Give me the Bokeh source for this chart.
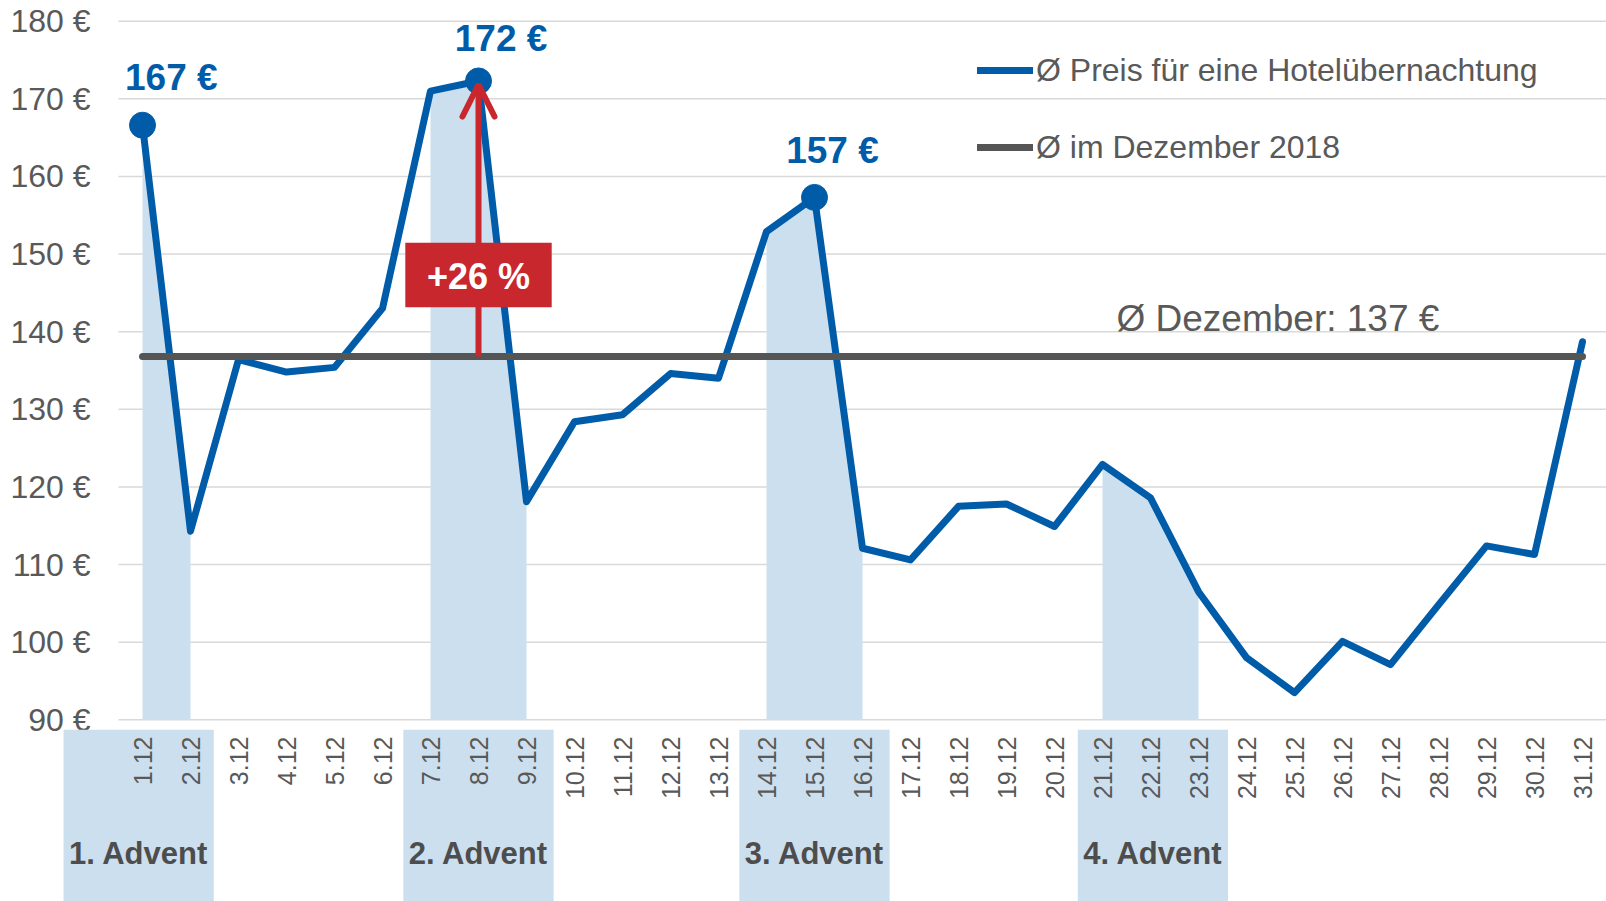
import math
from bokeh.plotting import figure
from bokeh.models import Range1d, Legend, LegendItem, Arrow, OpenHead, BoxAnnotation, Label
from bokeh.embed import file_html
from bokeh.resources import INLINE
from bokeh.core.properties import value

# ---------------- data ----------------
days = list(range(1, 32))
date_labels = ["1.12", "2.12", "3.12", "4.12", "5.12", "6.12", "7.12", "8.12", "9.12",
               "10.12", "11.12", "12.12", "13.12", "14.12", "15.12", "16.12", "17.12",
               "18.12", "19.12", "20.12", "21.12", "22.12", "23.12", "24.12", "25.12",
               "26.12", "27.12", "28.12", "29.12", "30.12", "31.12"]
prices = [166.6, 114.3, 136.4, 134.8, 135.4, 143.0, 171.0, 172.3, 118.1, 128.4,
          129.3, 134.6, 134.0, 152.9, 157.3, 112.1, 110.6, 117.5, 117.8, 114.9,
          122.9, 118.6, 106.5, 98.0, 93.5, 100.1, 97.1, 104.8, 112.4, 111.3, 138.7]
december_avg = 136.8
advent_weekends = [[1, 2], [7, 8, 9], [14, 15, 16], [21, 22, 23]]
advent_names = ["1. Advent", "2. Advent", "3. Advent", "4. Advent"]
peak_days = [1, 8, 15]
peak_labels = ["167 €", "172 €", "157 €"]
y_ticks = [90, 100, 110, 120, 130, 140, 150, 160, 170, 180]
y_tick_labels = ["90 €", "100 €", "110 €", "120 €", "130 €", "140 €", "150 €", "160 €", "170 €", "180 €"]
legend_labels = ["Ø Preis für eine Hotelübernachtung", "Ø im Dezember 2018"]
avg_text = "Ø Dezember: 137 €"
change_text = "+26 %"

# ---------------- style / layout ----------------
FONT = "Liberation Sans"
BLUE = "#005CA9"
GREY_LINE = "#555555"
SHADE = "#CCDFEE"
RED = "#C8282D"
TXT = "#595959"
W, H = 1606, 901

# pixel geometry of the plotting area (page px)
X_FIRST_BAND = 118.0      # left edge of the first day slot
SLOT = 48.0               # px per day
Y_TOP_TICK = 20.7         # px of the 180 gridline
PX_PER_UNIT = 7.762       # px per euro


def px_x(px):
    return (px - X_FIRST_BAND) / SLOT + 0.5


def px_y(py):
    return y_ticks[-1] - (py - Y_TOP_TICK) / PX_PER_UNIT


band_centers = [0.92, 8.0, 15.0, 22.05]
band_half = 1.565
band_top = px_y(729.3)
date_label_y = px_y(736)
advent_label_y = px_y(853)
label_x = px_x(90)
peak_dx = [0.6, 0.47, 0.375]
peak_dy = [6.15, 5.45, 6.0]

p = figure(width=W, height=H, output_backend="svg", toolbar_location=None, tools="",
           x_range=Range1d(px_x(0), px_x(W)), y_range=Range1d(px_y(H), px_y(0)),
           x_axis_location=None, y_axis_location=None,
           min_border_left=0, min_border_right=0, min_border_top=0, min_border_bottom=0)
p.outline_line_color = None
p.background_fill_color = "white"
p.border_fill_color = "white"
p.grid.visible = False

# horizontal gridlines
p.segment(x0=[0.5] * len(y_ticks), x1=[31.5] * len(y_ticks), y0=y_ticks, y1=y_ticks,
          line_color="#D9D9D9", line_width=1.5)
# y tick labels
p.text(x=[label_x] * len(y_ticks), y=y_ticks, text=y_tick_labels, text_align="right",
       text_baseline="middle", text_font=value(FONT), text_font_size="32px", text_color=TXT)

# bands below axis
p.quad(left=[c - band_half for c in band_centers], right=[c + band_half for c in band_centers],
       bottom=px_y(H) - 5, top=band_top, fill_color=SHADE, line_color=None)

# advent weekend areas under the line
for wk in advent_weekends:
    p.varea(x=wk, y1=[y_ticks[0]] * len(wk), y2=[prices[d - 1] for d in wk], fill_color=SHADE)

blue_line = p.line(days, prices, line_color=BLUE, line_width=7, line_join="round", line_cap="round")
avg_line = p.line([days[0], days[-1]], [december_avg, december_avg], line_color=GREY_LINE,
                  line_width=7, line_cap="round")
p.scatter(peak_days, [prices[d - 1] for d in peak_days], size=26,
          fill_color=BLUE, line_color=BLUE)

# peak labels
p.text(x=[d + dx for d, dx in zip(peak_days, peak_dx)],
       y=[prices[d - 1] + dy for d, dy in zip(peak_days, peak_dy)],
       text=peak_labels, text_align="center", text_baseline="middle",
       text_font=value(FONT), text_font_style="bold", text_font_size="37px", text_color=BLUE)

# average text
p.text(x=[px_x(1116)], y=[px_y(317.5)], text=[avg_text], text_align="left", text_baseline="middle",
       text_font=value(FONT), text_font_size="37px", text_color=TXT)

# date labels
p.text(x=days, y=[date_label_y] * len(days), text=date_labels, angle=math.pi / 2,
       text_align="right", text_baseline="middle", text_font=value(FONT),
       text_font_size="25px", text_color=TXT)

# advent labels
p.text(x=band_centers, y=[advent_label_y] * 4, text=advent_names, text_align="center",
       text_baseline="middle", text_font=value(FONT), text_font_style="bold",
       text_font_size="31px", text_color="#4D4D4D")

# arrow + change box (annotations, box drawn over the arrow)
p.add_layout(Arrow(end=OpenHead(size=32, line_color=RED, line_width=6, line_cap="round"),
                   x_start=8, y_start=december_avg, x_end=8, y_end=px_y(84),
                   line_color=RED, line_width=6))
p.add_layout(BoxAnnotation(left=8 - 1.525, right=8 + 1.525, bottom=px_y(306.7), top=px_y(242.3),
                           fill_color=RED, fill_alpha=1.0, line_color=None))
p.add_layout(Label(x=8, y=px_y(275.8), text=change_text, text_align="center",
                   text_baseline="middle", text_font=FONT, text_font_style="bold",
                   text_font_size="36px", text_color="white"))

legend = Legend(items=[LegendItem(label=legend_labels[0], renderers=[blue_line]),
                       LegendItem(label=legend_labels[1], renderers=[avg_line])],
                location=(977, 734), glyph_width=56, glyph_height=40, label_height=40,
                label_standoff=3, spacing=37, padding=0, margin=0,
                border_line_color=None, background_fill_alpha=0,
                label_text_font=FONT, label_text_font_size="32px", label_text_color=TXT)
p.add_layout(legend)

open("out.html", "w").write(file_html(p, INLINE))
